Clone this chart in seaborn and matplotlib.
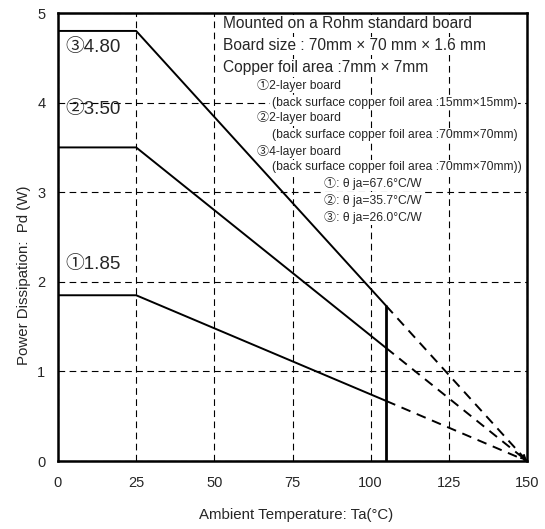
import matplotlib
matplotlib.use('Agg')
import matplotlib.pyplot as plt
import seaborn as sns
import pandas as pd

# derating curves
temps_solid = [0, 25, 105]
temps_dash = [105, 150]
pd_1 = [1.85, 1.85, 0.67]
pd_2 = [3.50, 3.50, 1.26]
pd_3 = [4.80, 4.80, 1.73]
pd_1_dash = [0.67, 0]
pd_2_dash = [1.26, 0]
pd_3_dash = [1.73, 0]
tj_limit = [105, 105]
tj_limit_pd = [0, 1.73]

x_ticks = [0, 25, 50, 75, 100, 125, 150]
y_ticks = [0, 1, 2, 3, 4, 5]
peak_labels = ['①1.85', '②3.50', '③4.80']

sns.set_style('white')
plt.rcParams['font.family'] = ['Liberation Sans', 'Noto Sans CJK JP', 'DejaVu Sans']

fig = plt.figure(figsize=(5.45, 5.29), dpi=100)
ax = fig.add_axes([0.1064, 0.1285, 0.8606, 0.8469])

solid = pd.DataFrame({
    'Ta': temps_solid * 3,
    'Pd': pd_1 + pd_2 + pd_3,
    'curve': ['1'] * 3 + ['2'] * 3 + ['3'] * 3,
})
dash = pd.DataFrame({
    'Ta': temps_dash * 3,
    'Pd': pd_1_dash + pd_2_dash + pd_3_dash,
    'curve': ['1'] * 2 + ['2'] * 2 + ['3'] * 2,
})

sns.lineplot(data=solid, x='Ta', y='Pd', units='curve', estimator=None,
             color='black', lw=1.4, ax=ax, zorder=3)
n_solid = len(ax.lines)
sns.lineplot(data=dash, x='Ta', y='Pd', units='curve', estimator=None,
             color='black', lw=1.4, ax=ax, zorder=3)
# the part past 105C is only an extension, draw it dashed
for line in ax.lines[n_solid:]:
    line.set_linestyle((0, (5, 3.5)))
ax.plot(tj_limit, tj_limit_pd, color='black', lw=2, zorder=3)

ax.annotate('', xy=(150, 0), xytext=(148, 0.07),
            arrowprops=dict(arrowstyle='-|>', color='black', lw=1,
                            mutation_scale=9, shrinkA=0, shrinkB=0), zorder=4)

ax.set_xlim(0, 150)
ax.set_ylim(0, 5)
ax.set_xticks(x_ticks)
ax.set_yticks(y_ticks)
ax.tick_params(length=0, labelsize=10.5, pad=11)
ax.tick_params(axis='y', pad=9)
ax.grid(True, color='black', linestyle=(0, (6, 4)), lw=0.8)
for sp in ax.spines.values():
    sp.set_linewidth(1.8)
    sp.set_color('black')
    sp.set_zorder(5)

ax.set_xlabel('Ambient Temperature: Ta(°C)', fontsize=10.8)
ax.set_ylabel('Power Dissipation:  Pd (W)', fontsize=10.8)
ax.xaxis.set_label_coords(0.5075, -0.105)
ax.yaxis.set_label_coords(-0.057, 0.415)

# peak value labels
for lab, y in zip(peak_labels, [2.19, 3.92, 4.62]):
    ax.text(2.3, y, lab, fontsize=13.5, va='center', ha='left', zorder=4)

box = dict(facecolor='white', edgecolor='none', pad=1)
big_notes = ['Mounted on a Rohm standard board',
             'Board size : 70mm × 70 mm × 1.6 mm',
             'Copper foil area :7mm × 7mm']
for i, t in enumerate(big_notes):
    ax.text(52.8, 4.88 - i * 0.245, t, fontsize=11.2, va='center', ha='left',
            bbox=box, zorder=4)

small_notes = [
    (63.5, 4.19, '①2-layer board'),
    (68.3, 4.0, '(back surface copper foil area :15mm×15mm)'),
    (63.5, 3.83, '②2-layer board'),
    (68.3, 3.64, '(back surface copper foil area :70mm×70mm)'),
    (63.5, 3.46, '③4-layer board'),
    (68.3, 3.28, '(back surface copper foil area :70mm×70mm))'),
    (85.2, 3.10, '①: θ ja=67.6°C/W'),
    (85.2, 2.91, '②: θ ja=35.7°C/W'),
    (85.2, 2.72, '③: θ ja=26.0°C/W'),
]
for x, y, t in small_notes:
    ax.text(x, y, t, fontsize=8.7, va='center', ha='left', bbox=box, zorder=4)

fig.savefig('out.png', dpi=100)
